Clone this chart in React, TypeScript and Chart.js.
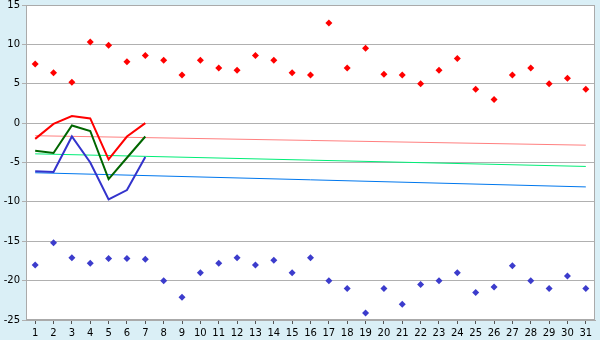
import React, { useEffect, useRef } from "react";
import { Chart, registerables } from "chart.js";

Chart.register(...registerables);

const days = Array.from({ length: 31 }, (_, i) => String(i + 1));

const maxPoints = [7.5, 6.4, 5.2, 10.3, 9.9, 7.8, 8.6, 8.0, 6.1, 8.0, 7.0, 6.7, 8.6, 8.0, 6.4, 6.1, 12.7, 7.0, 9.5, 6.2, 6.1, 5.0, 6.7, 8.2, 4.3, 3.0, 6.1, 7.0, 5.0, 5.7, 4.3];
const minPoints = [-18.0, -15.2, -17.1, -17.8, -17.2, -17.2, -17.3, -20.0, -22.1, -19.0, -17.8, -17.1, -18.0, -17.4, -19.0, -17.1, -20.0, -21.0, -24.1, -21.0, -23.0, -20.5, -20.0, -19.0, -21.5, -20.8, -18.1, -20.0, -21.0, -19.4, -21.0];

const redLine = [-2.0, -0.1, 0.9, 0.6, -4.6, -1.7, 0.0];
const greenLine = [-3.5, -3.8, -0.3, -1.0, -7.1, -4.4, -1.7];
const blueLine = [-6.1, -6.2, -1.7, -5.0, -9.7, -8.5, -4.3];

// trend lines: start (day 1) and end (day 31)
const trendRed = [-1.6, -2.8];
const trendGreen = [-3.9, -5.5];
const trendBlue = [-6.3, -8.1];

const yTicks = [-25, -20, -15, -10, -5, 0, 5, 10, 15];

function endpoints(pair: number[]) {
  return days.map((_, i) => (i === 0 ? pair[0] : i === days.length - 1 ? pair[1] : null));
}

const frame = {
  id: "frame",
  beforeDraw(chart: any) {
    const { ctx, chartArea } = chart;
    ctx.save();
    ctx.fillStyle = "#ffffff";
    ctx.fillRect(chartArea.left, chartArea.top, chartArea.right - chartArea.left, chartArea.bottom - chartArea.top);
    ctx.restore();
  },
  afterDraw(chart: any) {
    const { ctx, chartArea } = chart;
    ctx.save();
    ctx.strokeStyle = "#aaaaaa";
    ctx.lineWidth = 1;
    ctx.strokeRect(chartArea.left + 0.5, chartArea.top + 0.5, chartArea.right - chartArea.left - 1, chartArea.bottom - chartArea.top - 1);
    ctx.restore();
  },
};

export default function App() {
  const ref = useRef<HTMLCanvasElement | null>(null);
  useEffect(() => {
    document.body.style.margin = "0";
    const font = { family: "DejaVu Sans", size: 10 };
    const chart = new Chart(ref.current as HTMLCanvasElement, {
      type: "line",
      data: {
        labels: days,
        datasets: [
          { data: redLine, borderColor: "#ff0000", borderWidth: 2, pointRadius: 0, fill: false, tension: 0 },
          { data: greenLine, borderColor: "#006600", borderWidth: 2, pointRadius: 0, fill: false, tension: 0 },
          { data: blueLine, borderColor: "#3333cc", borderWidth: 2, pointRadius: 0, fill: false, tension: 0 },
          { data: endpoints(trendRed), borderColor: "#ff8080", borderWidth: 1, pointRadius: 0, spanGaps: true, fill: false },
          { data: endpoints(trendGreen), borderColor: "#00ee77", borderWidth: 1, pointRadius: 0, spanGaps: true, fill: false },
          { data: endpoints(trendBlue), borderColor: "#0077ee", borderWidth: 1, pointRadius: 0, spanGaps: true, fill: false },
          { data: maxPoints, showLine: false, pointStyle: "rectRot", pointRadius: 3.5, pointBackgroundColor: "#ff0000", pointBorderColor: "#ff0000", pointBorderWidth: 0 },
          { data: minPoints, showLine: false, pointStyle: "rectRot", pointRadius: 3.5, pointBackgroundColor: "#3c3ccc", pointBorderColor: "#3c3ccc", pointBorderWidth: 0 },
        ],
      },
      options: {
        animation: false,
        responsive: false,
        maintainAspectRatio: false,
        layout: { padding: { top: 5, right: 5, left: 0, bottom: 0 } },
        plugins: { legend: { display: false }, tooltip: { enabled: false } },
        scales: {
          x: {
            offset: true,
            grid: { drawOnChartArea: false, drawTicks: true, tickLength: 4, color: "#555555", offset: false },
            border: { display: true, color: "#aaaaaa" },
            ticks: { color: "#000000", font, padding: 3, maxRotation: 0, autoSkip: false },
            afterFit: (s: any) => { s.height = 20; s.paddingLeft = 0; s.paddingRight = 0; },
          },
          y: {
            min: -25,
            max: 15,
            afterBuildTicks: (s: any) => { s.ticks = yTicks.map((v) => ({ value: v })); },
            grid: { color: "#b0b0b0", tickLength: 4, drawTicks: true },
            border: { display: true, color: "#aaaaaa" },
            ticks: { color: "#000000", font, padding: 2 },
            afterFit: (s: any) => { s.width = 26; s.paddingTop = 0; s.paddingBottom = 0; },
          },
        },
      },
      plugins: [frame],
    });
    return () => chart.destroy();
  }, []);
  return (
    <div style={{ width: 600, height: 340, background: "#daeff6" }}>
      <canvas ref={ref} width={600} height={340} style={{ display: "block" }} />
    </div>
  );
}
